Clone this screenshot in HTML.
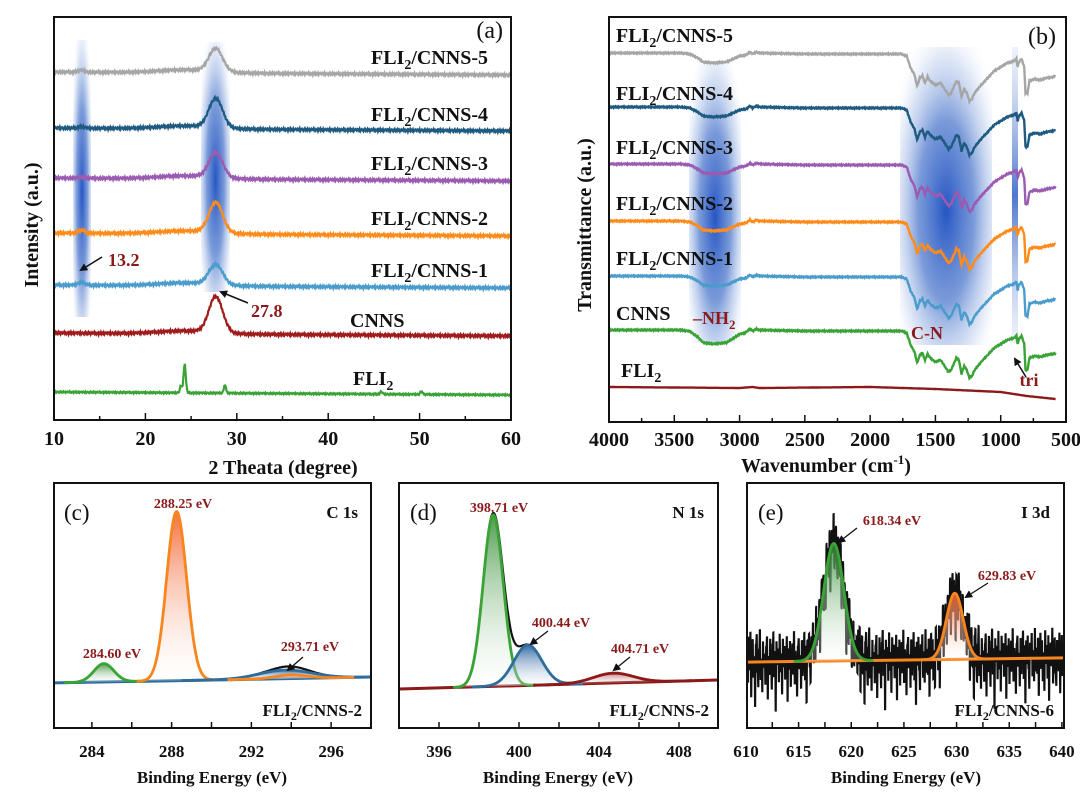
<!DOCTYPE html>
<html><head><meta charset="utf-8">
<style>
html,body{margin:0;padding:0;background:#fff;}
svg{display:block;font-family:"Liberation Serif",serif;}
.lab{font-weight:bold;font-size:20px;fill:#111;}
.tick{font-weight:bold;font-size:20px;fill:#111;}
.ttl{font-weight:bold;font-size:20px;fill:#111;}
.red{font-weight:bold;fill:#8b1a1a;}
.xl{font-weight:bold;font-size:17px;fill:#111;}
</style></head>
<body>
<svg id="fig" width="1080" height="793" viewBox="0 0 1080 793" xmlns="http://www.w3.org/2000/svg">
<defs>
<radialGradient id="band" cx="0.5" cy="0.55" r="0.68">
<stop offset="0" stop-color="#2656c4" stop-opacity="1"/>
<stop offset="0.45" stop-color="#5a82d0" stop-opacity="0.8"/>
<stop offset="0.75" stop-color="#a9bfe8" stop-opacity="0.4"/>
<stop offset="1" stop-color="#ffffff" stop-opacity="0"/>
</radialGradient>
<linearGradient id="bandV" x1="0" y1="0" x2="0" y2="1">
<stop offset="0" stop-color="#a9bfe8" stop-opacity="0.2"/>
<stop offset="0.5" stop-color="#2e5fc6" stop-opacity="0.85"/>
<stop offset="1" stop-color="#a9bfe8" stop-opacity="0.2"/>
</linearGradient>
<linearGradient id="gFill" x1="0" y1="0" x2="0" y2="1"><stop offset="0" stop-color="#2f8a2f" stop-opacity="0.85"/><stop offset="1" stop-color="#ffffff" stop-opacity="0.2"/></linearGradient>
<linearGradient id="oFill" x1="0" y1="0" x2="0" y2="1"><stop offset="0" stop-color="#f2602a" stop-opacity="0.9"/><stop offset="1" stop-color="#ffffff" stop-opacity="0.2"/></linearGradient>
<linearGradient id="bFill" x1="0" y1="0" x2="0" y2="1"><stop offset="0" stop-color="#1d5a9a" stop-opacity="0.9"/><stop offset="1" stop-color="#ffffff" stop-opacity="0.2"/></linearGradient>
<linearGradient id="rFill" x1="0" y1="0" x2="0" y2="1"><stop offset="0" stop-color="#a02828" stop-opacity="0.6"/><stop offset="1" stop-color="#ffffff" stop-opacity="0.1"/></linearGradient>
<marker id="arr" markerWidth="8" markerHeight="8" refX="6" refY="4" orient="auto" markerUnits="userSpaceOnUse"><path d="M0,0 L8,4 L0,8 z" fill="#111"/></marker>
</defs>

<g id="pa">
<rect x="73" y="40" width="18" height="277" fill="url(#band)"/>
<rect x="201" y="42" width="29" height="250" fill="url(#band)"/>
<g id="paCurves"></g>
<rect x="54" y="17" width="457" height="403" fill="none" stroke="#111" stroke-width="2"/>
<g id="paTicks"></g>
<text x="503" y="38" font-size="24" text-anchor="end" fill="#111">(a)</text>
<g class="lab" text-anchor="end">
<text x="488" y="64">FLI<tspan dy="5" font-size="14">2</tspan><tspan dy="-5">/CNNS-5</tspan></text>
<text x="488" y="121">FLI<tspan dy="5" font-size="14">2</tspan><tspan dy="-5">/CNNS-4</tspan></text>
<text x="488" y="170">FLI<tspan dy="5" font-size="14">2</tspan><tspan dy="-5">/CNNS-3</tspan></text>
<text x="488" y="225">FLI<tspan dy="5" font-size="14">2</tspan><tspan dy="-5">/CNNS-2</tspan></text>
<text x="488" y="277">FLI<tspan dy="5" font-size="14">2</tspan><tspan dy="-5">/CNNS-1</tspan></text>
</g>
<text class="lab" x="350" y="327">CNNS</text>
<text class="lab" x="353" y="385">FLI<tspan dy="5" font-size="14">2</tspan></text>
<text class="red" font-size="18" x="108" y="266">13.2</text>
<line x1="102" y1="257" x2="81" y2="270" stroke="#111" stroke-width="1.5" marker-end="url(#arr)"/>
<text class="red" font-size="18" x="251" y="317">27.8</text>
<line x1="248" y1="303" x2="221" y2="292" stroke="#111" stroke-width="1.5" marker-end="url(#arr)"/>
<text class="ttl" transform="translate(38,225) rotate(-90)" text-anchor="middle">Intensity (a.u.)</text>
<text class="ttl" x="283" y="474" text-anchor="middle">2 Theata (degree)</text>
</g>

<g id="pb">
<rect x="689" y="62" width="52" height="281" fill="url(#band)"/>
<rect x="900" y="47" width="92" height="298" fill="url(#band)"/>
<rect x="1012" y="47" width="6" height="296" fill="url(#bandV)"/>
<g id="pbCurves"></g>
<rect x="609" y="17" width="457" height="405" fill="none" stroke="#111" stroke-width="2"/>
<g id="pbTicks"></g>
<text x="1056" y="44" font-size="24" text-anchor="end" fill="#111">(b)</text>
<g class="lab">
<text x="616" y="42">FLI<tspan dy="5" font-size="14">2</tspan><tspan dy="-5">/CNNS-5</tspan></text>
<text x="616" y="100">FLI<tspan dy="5" font-size="14">2</tspan><tspan dy="-5">/CNNS-4</tspan></text>
<text x="616" y="154">FLI<tspan dy="5" font-size="14">2</tspan><tspan dy="-5">/CNNS-3</tspan></text>
<text x="616" y="210">FLI<tspan dy="5" font-size="14">2</tspan><tspan dy="-5">/CNNS-2</tspan></text>
<text x="616" y="265">FLI<tspan dy="5" font-size="14">2</tspan><tspan dy="-5">/CNNS-1</tspan></text>
<text x="616" y="320">CNNS</text>
<text x="621" y="377">FLI<tspan dy="5" font-size="14">2</tspan></text>
</g>
<text class="red" font-size="18" x="693" y="324">–NH<tspan dy="5" font-size="13">2</tspan></text>
<text class="red" font-size="18" x="927" y="339" text-anchor="middle">C-N</text>
<text class="red" font-size="18" x="1029" y="386" text-anchor="middle">tri</text>
<line x1="1026" y1="377" x2="1015" y2="359" stroke="#111" stroke-width="1.5" marker-end="url(#arr)"/>
<text class="ttl" transform="translate(591,225) rotate(-90)" text-anchor="middle">Transmittance (a.u.)</text>
<text class="ttl" x="826" y="472" text-anchor="middle">Wavenumber (cm<tspan dy="-8" font-size="13">-1</tspan><tspan dy="8">)</tspan></text>
</g>

<g id="pc"><g id="pcCurves"></g>
<rect x="54" y="483" width="317" height="245" fill="none" stroke="#111" stroke-width="2"/><g id="pcTicks"></g>
<text x="64" y="520" font-size="23" fill="#111">(c)</text>
<text class="red" font-size="14" x="183" y="508" text-anchor="middle">288.25 eV</text>
<text x="358" y="518" font-size="17" font-weight="bold" text-anchor="end" fill="#111">C 1s</text>
<text class="red" font-size="14" x="112" y="658" text-anchor="middle">284.60 eV</text>
<text class="red" font-size="14" x="310" y="651" text-anchor="middle">293.71 eV</text>
<line x1="303" y1="657" x2="288" y2="670" stroke="#111" stroke-width="1.3" marker-end="url(#arr)"/>
<text class="xl" x="362" y="716" text-anchor="end" font-weight="normal">FLI<tspan dy="4" font-size="12">2</tspan><tspan dy="-4">/CNNS-2</tspan></text>
<text class="xl" x="212" y="783" text-anchor="middle" font-size="18">Binding Energy (eV)</text>
</g>

<g id="pd"><g id="pdCurves"></g>
<rect x="399" y="483" width="319" height="245" fill="none" stroke="#111" stroke-width="2"/><g id="pdTicks"></g>
<text x="410" y="520" font-size="23" fill="#111">(d)</text>
<text class="red" font-size="14" x="499" y="512" text-anchor="middle">398.71 eV</text>
<text x="704" y="518" font-size="17" font-weight="bold" text-anchor="end" fill="#111">N 1s</text>
<text class="red" font-size="14" x="561" y="627" text-anchor="middle">400.44 eV</text>
<line x1="548" y1="631" x2="531" y2="644" stroke="#111" stroke-width="1.3" marker-end="url(#arr)"/>
<text class="red" font-size="14" x="640" y="653" text-anchor="middle">404.71 eV</text>
<line x1="630" y1="657" x2="614" y2="670" stroke="#111" stroke-width="1.3" marker-end="url(#arr)"/>
<text class="xl" x="709" y="716" text-anchor="end" font-weight="normal">FLI<tspan dy="4" font-size="12">2</tspan><tspan dy="-4">/CNNS-2</tspan></text>
<text class="xl" x="558" y="783" text-anchor="middle" font-size="18">Binding Energy (eV)</text>
</g>

<g id="pe"><g id="peCurves"></g>
<rect x="747" y="483" width="317" height="245" fill="none" stroke="#111" stroke-width="2"/><g id="peTicks"></g>
<text x="758" y="520" font-size="23" fill="#111">(e)</text>
<text class="red" font-size="14" x="892" y="525" text-anchor="middle">618.34 eV</text>
<line x1="857" y1="528" x2="839" y2="542" stroke="#111" stroke-width="1.3" marker-end="url(#arr)"/>
<text x="1050" y="518" font-size="17" font-weight="bold" text-anchor="end" fill="#111">I 3d</text>
<text class="red" font-size="14" x="1007" y="580" text-anchor="middle">629.83 eV</text>
<line x1="988" y1="583" x2="966" y2="597" stroke="#111" stroke-width="1.3" marker-end="url(#arr)"/>
<text class="xl" x="1054" y="716" text-anchor="end" font-weight="normal">FLI<tspan dy="4" font-size="12">2</tspan><tspan dy="-4">/CNNS-6</tspan></text>
<text class="xl" x="906" y="783" text-anchor="middle" font-size="18">Binding Energy (eV)</text>
</g>
</svg>
<script>
const NS='http://www.w3.org/2000/svg';
// ---- Panel (a) XRD data ----
const xrdNames=['fli2','cnns','fli2-cnns-1','fli2-cnns-2','fli2-cnns-3','fli2-cnns-4','fli2-cnns-5'];
const xrdColors=['#3aa336','#a01c1c','#4a9ccc','#ff8c1a','#9a5bb0','#1f5a80','#a6a6a6'];
const xrdBase=[28,87,135,187,242,292,348];
const xrdMainPeak=[0,36,20,30,25,29,23];
const xrdPeak13=[0,0,3,3,1.5,1.5,2];
const fliPeakPos=[23.9,24.3,28.7,45.8,50.2];
const fliPeakH=[7,29,8,2.5,3];
const xrdTicks=[10,20,30,40,50,60];
const xrdNoise=[0.8,-0.6,1.2,-1.1,0.3,0.9,-0.4,-1.3,0.6,1.4,-0.8,0.2,-0.9,1.1,-0.2,0.7,-1.2,0.4,1.0,-0.5,-0.1,1.3,-0.7,0.5,-1.0,0.1,0.8,-1.4,0.6,-0.3,1.2,-0.9,0.4,-0.6,1.0,-1.1,0.2,0.9,-0.2,-0.8,1.1];
// ---- Panel (b) FTIR data ----
const ftNames=['cnns','fli2-cnns-1','fli2-cnns-2','fli2-cnns-3','fli2-cnns-4','fli2-cnns-5'];
const ftColors=['#3aa336','#4a9ccc','#ff8c1a','#9a5bb0','#1f5a80','#a6a6a6'];
const ftBase=[92,146,201,258,315,369];
const ftNH2Scale=[1.4,1,1,1,1,1];
const ftWn=[4000,3450,3380,3320,3280,3200,3100,3050,3000,2950,2920,2900,2870,2850,2500,2000,1760,1720,1690,1660,1640,1620,1600,1580,1560,1540,1500,1460,1420,1400,1380,1340,1320,1300,1280,1260,1240,1220,1200,1150,1100,1050,1000,950,900,880,870,860,840,820,810,795,780,740,700,650,600,580];
const ftDepth=[0,0,1,5,9,10,9,6,3,2,-1,1,-1,0,1,1,1,3,15,22,33,25,23,30,24,28,32,30,38,42,40,28,30,44,36,40,48,46,40,32,25,18,14,10,8,6,14,9,6,14,40,40,28,26,27,25,24,23];
const fliWn=[4000,3000,2900,2850,2000,1500,1000,800,580];
const fliT=[35,34,35,34,35,33,30,26,23];
const ftTicks=[4000,3500,3000,2500,2000,1500,1000,500];
// ---- XPS data ----
const cCenters=[284.6,288.25,293.71,294.0];
const cHeights=[7.5,69,3.5,1.5];
const cSigmas=[0.5,0.5,1.3,0.8];
const cColors=['#3aa336','#f7861f','#2f6d9c','#f7861f'];
const cFills=['url(#gFill)','url(#oFill)','url(#bFill)','url(#oFill)'];
const cBase=[18.4,20.8];
const cTicks=[284,288,292,296];
const dCenters=[398.71,400.44,404.71];
const dHeights=[70,16.5,4];
const dSigmas=[0.5,0.7,1.0];
const dColors=['#3aa336','#2f6d9c','#8b1a1a'];
const dFills=['url(#gFill)','url(#bFill)','url(#rFill)'];
const dBase=[15.9,19.6];
const dTicks=[396,400,404,408];
const eCenters=[618.34,629.83];
const eHeights=[48,27];
const eSigmas=[0.95,0.8];
const eColors=['#3aa336','#f7861f'];
const eFills=['url(#gFill)','url(#oFill)'];
const eBase=[26.9,28.6];
const eTicks=[610,615,620,625,630,635,640];
const eNoise=[6,-8,10,-3,12,-14,4,9,-6,2,-18,7,11,-4,-10,5,13,-7,1,-12,8,-2,3,-9,6,10,-15,2,-5,9,-3,-11,7,12,-6,4,-20,8,-1,5,-8,11,-4,3,-13,9,-2,6,-7,1,10,-16,5,-3,8,-10,2,7,-5,12,-9,4,-1,-14,6,9,-3,2,-11,8,-6,3,11,-8,5,-18,7,-2,9,-4,-12,6,1,10,-7,3,-9,12,-5,4,-6,8,-15,3,10,-4,7,-9,2,-13,11,-2,5,-8,9,-17,4,6,-3,12,-10,1,8,-6,-11,7,3,-5,10,-14,2,9,-7,5,-2,-19,8,4,-9,11,-3,6,-12,1,9,-8,3,-4];

function el(tag,attrs,parent){const e=document.createElementNS(NS,tag);for(const k in attrs)e.setAttribute(k,attrs[k]);parent.appendChild(e);return e;}
function pathD(pts){return pts.map((p,i)=>(i?'L':'M')+p[0].toFixed(1)+','+p[1].toFixed(1)).join('');}
function g(x,c,s){return Math.exp(-0.5*((x-c)/s)*((x-c)/s));}
function interp(xs,ys,x){for(let i=0;i<xs.length-1;i++){const a=xs[i],b=xs[i+1];if((x<=a&&x>=b)||(x>=a&&x<=b)){const t=(x-a)/(b-a);return ys[i]+t*(ys[i+1]-ys[i]);}}return ys[ys.length-1];}

// ---- Panel a ----
const xa=v=>54+(v-10)*457/50, ya=v=>420-v;
const paC=document.getElementById('paCurves');
xrdNames.forEach((nm,i)=>{
  const pts=[];let k=i*7;
  for(let t=10;t<=60.001;t+=0.08){
    let v=xrdBase[i]-3*(t-10)/50+xrdNoise[(k++)%xrdNoise.length]*(i===0?0.6:1);
    if(i===0){fliPeakPos.forEach((p,j)=>{v+=fliPeakH[j]*g(t,p,0.12);});}
    else{v+=xrdMainPeak[i]*g(t,27.7,0.75)+3*g(t,24.5,3)+xrdPeak13[i]*g(t,13.0,0.35);}
    pts.push([xa(t),ya(v)]);
  }
  const p=el('path',{d:pathD(pts),fill:'none',stroke:xrdColors[i],'stroke-width':2.2},paC);
  
  
});
const paT=document.getElementById('paTicks');
for(let t=10;t<=60;t+=5){
  const tk=el('line',{x1:xa(t),x2:xa(t),y1:420,y2:t%10===0?413:416,stroke:'#111','stroke-width':1.5},paT);
  
  
}
xrdTicks.forEach(t=>{
  const tl=el('text',{x:xa(t),y:445,'text-anchor':'middle',class:'tick'},paT);tl.textContent=t;
  
  
});

// ---- Panel b ----
const xb=w=>609+(4000-w)*457/3500, yb=v=>422-v;
const pbC=document.getElementById('pbCurves');
ftNames.forEach((nm,i)=>{
  const pts=[];let k=i*5;
  for(let w=4000;w>=580;w-=5){
    let d=interp(ftWn,ftDepth,w);
    if(w>2950)d*=ftNH2Scale[i];
    const v=ftBase[i]-d+xrdNoise[(k++)%xrdNoise.length]*0.5;
    pts.push([xb(w),yb(v)]);
  }
  const p=el('path',{d:pathD(pts),fill:'none',stroke:ftColors[i],'stroke-width':2.4},pbC);
  
  
});
{
  const pts=[];for(let w=4000;w>=580;w-=10){pts.push([xb(w),yb(interp(fliWn,fliT,w))]);}
  const p=el('path',{d:pathD(pts),fill:'none',stroke:'#8b1a1a','stroke-width':2.4},pbC);
  
  
}
const pbT=document.getElementById('pbTicks');
for(let w=4000;w>=500;w-=250){
  const tk=el('line',{x1:xb(w),x2:xb(w),y1:422,y2:w%500===0?415:418,stroke:'#111','stroke-width':1.5},pbT);
  
  
}
ftTicks.forEach(w=>{
  const tl=el('text',{x:xb(w),y:446,'text-anchor':'middle',class:'tick'},pbT);tl.textContent=w;
  
  
});

// ---- XPS panels ----
function xps(id,x0,x1,e0,e1,centers,heights,sigmas,colors,fills,base,ticks,minor,noise,baseColor){
  const xs=e=>x0+(e-e0)*(x1-x0)/(e1-e0), ys=v=>728-v*2.45;
  const bl=e=>base[0]+(base[1]-base[0])*(e-e0)/(e1-e0);
  const grp=document.getElementById(id+'Curves');
  const n=noise?800:400;
  const step=(e1-e0)/n;
  const env=[];let k=0;
  for(let e=e0;e<=e1+1e-9;e+=step){let v=bl(e);centers.forEach((c,j)=>{v+=heights[j]*g(e,c,sigmas[j]);});
    if(noise){v+=noise[Math.floor(k/2)%noise.length];}k++;env.push([xs(e),ys(v)]);}
  const ep=el('path',{d:pathD(env),fill:'none',stroke:'#111','stroke-width':noise?1.8:2.2},grp);
  
  
  const bp=el('line',{x1:xs(e0),y1:ys(bl(e0)),x2:xs(e1),y2:ys(bl(e1)),stroke:baseColor,'stroke-width':3},grp);
  
  
  centers.forEach((c,j)=>{
    const top=[],bot=[];
    for(let e=Math.max(e0,c-4*sigmas[j]);e<=Math.min(e1,c+4*sigmas[j]);e+=sigmas[j]/20){top.push([xs(e),ys(bl(e)+heights[j]*g(e,c,sigmas[j]))]);bot.unshift([xs(e),ys(bl(e))]);}
    const f=el('path',{d:pathD(top.concat(bot))+'Z',fill:fills[j],stroke:'none'},grp);
    
    
    const l=el('path',{d:pathD(top),fill:'none',stroke:colors[j],'stroke-width':2.8},grp);
    
    
  });
  const tg=document.getElementById(id+'Ticks');
  for(let e=Math.ceil(e0/minor)*minor;e<=e1;e+=minor){
    const tk=el('line',{x1:xs(e),x2:xs(e),y1:728,y2:722,stroke:'#111','stroke-width':1.5},tg);
    
    
  }
  ticks.forEach(t=>{
    const tl=el('text',{x:xs(t),y:757,'text-anchor':'middle',class:'xl','font-size':18,'font-weight':'normal'},tg);tl.textContent=t;
    
    
  });
}
xps('pc',54,371,282.1,298,cCenters,cHeights,cSigmas,cColors,cFills,cBase,cTicks,2,null,'#2f6d9c');
xps('pd',399,718,394.0,409.95,dCenters,dHeights,dSigmas,dColors,dFills,dBase,dTicks,2,null,'#8b1a1a');
xps('pe',747,1064,610.1,640.2,eCenters,eHeights,eSigmas,eColors,eFills,eBase,eTicks,2.5,eNoise,'#f7861f');
</script>
</body></html>
